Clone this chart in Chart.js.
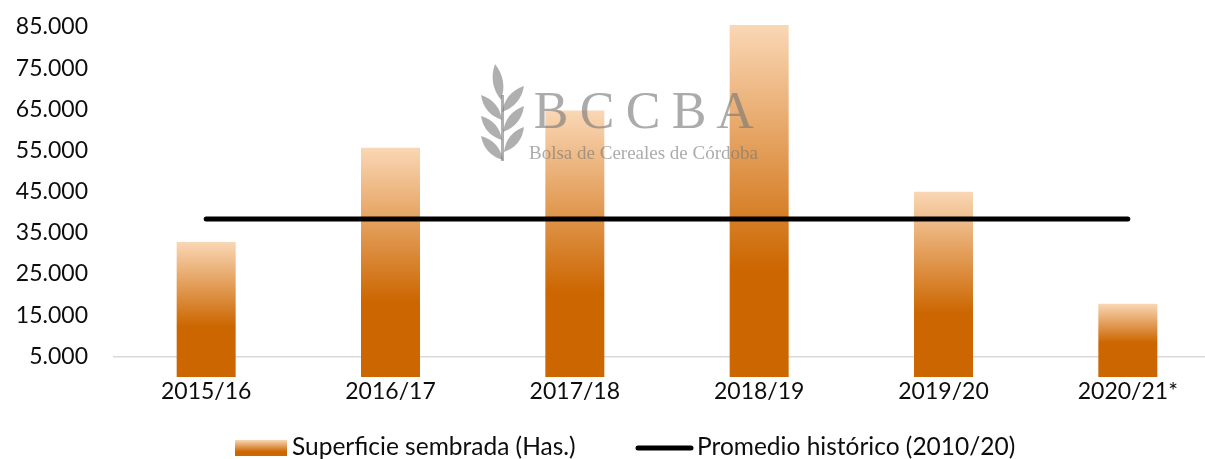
<!DOCTYPE html>
<html>
<head>
<meta charset="utf-8">
<script src="https://cdn.jsdelivr.net/npm/chart.js@4.4.1/dist/chart.umd.min.js"></script>
<style>
  html, body { margin: 0; padding: 0; background: #fff; overflow: hidden; }
  #wrap { width: 1220px; height: 459px; }
</style>
</head>
<body>
<div id="wrap"><canvas id="superficieChart"></canvas></div>
<script>
/* Data */
const campaigns = ["2015/16", "2016/17", "2017/18", "2018/19", "2019/20", "2020/21*"];
const superficie = [32800, 55700, 64700, 85500, 45000, 17800];
const promedio = [38400, 38400, 38400, 38400, 38400, 38400];
const yTicks = [5000, 15000, 25000, 35000, 45000, 55000, 65000, 75000, 85000];

const FONT = "Lato, 'Open Sans', sans-serif";
const LIGHT = '#FAD7B5';
const DARK = '#CC6600';

function fmt(v) {
    return String(v).replace(/\B(?=(\d{3})+(?!\d))/g, '.');
}

function barGradient(ctx) {
    const chart = ctx.chart;
    if (!chart.chartArea || ctx.dataIndex === undefined) return DARK;
    const y = chart.scales.y;
    const top = y.getPixelForValue(ctx.raw);
    const bottom = y.getPixelForValue(y.min);
    const g = chart.ctx.createLinearGradient(0, top, 0, bottom);
    g.addColorStop(0, LIGHT);
    g.addColorStop(0.74, DARK);
    g.addColorStop(1, DARK);
    return g;
}

/* watermark + legend */
const decor = {
    id: 'decor',
    afterDraw(chart) {
        const c = chart.ctx;
        c.save();
        // wheat logo
        c.globalAlpha = 0.6;
        c.fillStyle = '#7a7a7a';
        const leaf = (bx, by, tx, ty, w) => {
            const mx = (bx + tx) / 2, my = (by + ty) / 2;
            const dx = tx - bx, dy = ty - by;
            const len = Math.hypot(dx, dy);
            const nx = -dy / len * w, ny = dx / len * w;
            c.beginPath();
            c.moveTo(bx, by);
            c.quadraticCurveTo(mx + nx, my + ny, tx, ty);
            c.quadraticCurveTo(mx - nx, my - ny, bx, by);
            c.fill();
        };
        leaf(501, 100, 495, 64, 10);
        leaf(502, 120, 481, 95, 10);
        leaf(502, 140, 481, 116, 10);
        leaf(503, 160, 481, 136, 10);
        leaf(502, 112, 524, 86, 10);
        leaf(503, 132, 524, 106, 10);
        leaf(504, 152, 524, 127, 10);
        c.fillRect(501, 95, 3, 66);
        // letters
        c.globalAlpha = 0.62;
        c.fillStyle = '#777';
        c.textBaseline = 'alphabetic';
        c.textAlign = 'center';
        c.font = "52px 'Liberation Serif', 'DejaVu Serif', serif";
        const letters = ['B', 'C', 'C', 'B', 'A'];
        letters.forEach((l, i) => c.fillText(l, 551 + i * 46, 128));
        c.font = "19px 'Liberation Serif', 'DejaVu Serif', serif";
        c.textAlign = 'left';
        c.fillText('Bolsa de Cereales de Córdoba', 529, 159);
        c.restore();

        // legend
        c.save();
        c.font = '24.5px ' + FONT;
        c.textBaseline = 'middle';
        const ly = 447;
        const g = c.createLinearGradient(0, 440, 0, 456);
        g.addColorStop(0, LIGHT);
        g.addColorStop(0.74, DARK);
        g.addColorStop(1, DARK);
        c.fillStyle = g;
        c.fillRect(235, 440, 52, 16);
        c.fillStyle = '#0d0d0d';
        c.fillText(chart.data.datasets[1].label, 292, ly);
        c.strokeStyle = '#000';
        c.lineWidth = 5;
        c.lineCap = 'round';
        c.beginPath();
        c.moveTo(638, 448);
        c.lineTo(691, 448);
        c.stroke();
        c.fillText(chart.data.datasets[0].label, 697, ly);
        c.restore();
    }
};

/* Create chart */
const my_chart = new Chart('superficieChart', {
    data: {
        labels: campaigns,
        datasets: [
            {
                type: 'line',
                label: 'Promedio histórico (2010/20)',
                data: promedio,
                borderColor: '#000',
                borderWidth: 5,
                borderCapStyle: 'round',
                pointRadius: 0,
                order: 0
            },
            {
                type: 'bar',
                label: 'Superficie sembrada (Has.)',
                data: superficie,
                backgroundColor: barGradient,
                barPercentage: 0.32,
                categoryPercentage: 1,
                clip: false,
                order: 1
            }
        ]
    },
    plugins: [decor],
    options: {
        responsive: true,
        maintainAspectRatio: false,
        animation: false,
        layout: {
            padding: { top: 27, bottom: 33, left: 0, right: 0 }
        },
        scales: {
            x: {
                grid: { display: false, drawTicks: false },
                border: { display: true, color: '#d9d9d9', width: 1.5 },
                ticks: {
                    color: '#0d0d0d',
                    padding: 21,
                    font: { family: FONT, size: 23 }
                }
            },
            y: {
                min: yTicks[0],
                max: yTicks[yTicks.length - 1],
                afterBuildTicks: (s) => { s.ticks = yTicks.map(v => ({ value: v })); },
                afterFit: (s) => {
                    s.width = 114;
                    s.paddingTop = 12;
                    s.paddingBottom = 12;
                },
                grid: { display: false, drawTicks: false },
                border: { display: false },
                ticks: {
                    color: '#0d0d0d',
                    padding: 26,
                    font: { family: FONT, size: 23 },
                    callback: (v) => fmt(v)
                }
            }
        },
        plugins: {
            legend: { display: false },
            tooltip: { enabled: false }
        }
    }
});
</script>
</body>
</html>
